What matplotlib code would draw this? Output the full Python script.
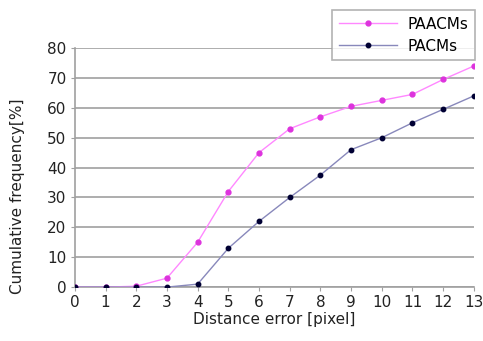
import numpy as np
import matplotlib.pyplot as plt

x = np.arange(0, 14)
paacms = [0, 0, 0.3, 3, 15, 32, 45, 53, 57, 60.5, 62.5, 64.5, 69.5, 74]
pacms = [0, 0, 0, 0, 1, 13, 22, 30, 37.5, 46, 50, 55, 59.5, 64]
yticks = np.arange(0, 90, 10)

fig = plt.figure(figsize=(4.83, 3.41), dpi=100)
ax = fig.add_axes([0.155, 0.158, 0.826, 0.701])

ax.plot(x, paacms, color='#ff88ff', lw=1.0, marker='o', ms=3.5,
        mfc='#dd33dd', mec='#dd33dd', label='PAACMs', zorder=3)
ax.plot(x, pacms, color='#8888bb', lw=1.0, marker='o', ms=3.2,
        mfc='#000033', mec='#000033', label='PACMs', zorder=3)

ax.set_xlim(0, 13)
ax.set_ylim(0, 80)
ax.set_xticks(x)
ax.set_yticks(yticks)
ax.yaxis.grid(True, color='#a0a0a0', lw=1.2)
ax.set_axisbelow(True)
for s in ['top', 'right']:
    ax.spines[s].set_visible(False)
for s in ['left', 'bottom']:
    ax.spines[s].set_color('#a0a0a0')
    ax.spines[s].set_linewidth(1.2)
ax.tick_params(colors='#a0a0a0', labelcolor='#222222', labelsize=11, length=3, pad=3)

ax.set_xlabel('Distance error [pixel]', fontsize=11, color='#222222', labelpad=1)
ax.set_ylabel('Cumulative frequency[%]', fontsize=11, color='#222222', labelpad=4)
ax.yaxis.set_label_coords(-0.125, 0.38)

leg = ax.legend(loc='upper right', bbox_to_anchor=(1.003, 1.16), fontsize=11,
                frameon=True, fancybox=False, borderaxespad=0, handlelength=3.8,
                labelspacing=0.45, borderpad=0.45, handletextpad=0.7)
leg.get_frame().set_edgecolor('#a0a0a0')
leg.get_frame().set_linewidth(1.2)

plt.savefig('out.png', dpi=100)
